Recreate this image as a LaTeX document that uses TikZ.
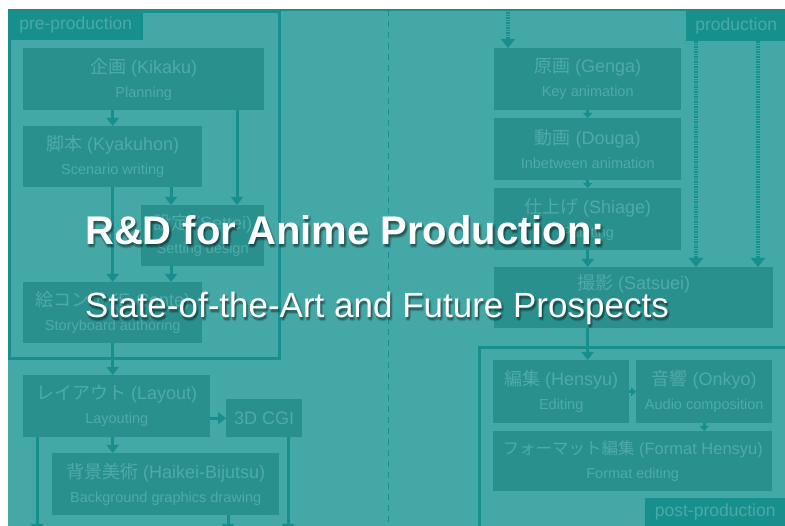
\documentclass[tikz,border=0pt]{standalone}
\usepackage{fontspec}
\setmainfont{Liberation Sans}
\newfontfamily\jp{Noto Sans CJK JP}
\usetikzlibrary{arrows.meta}
\definecolor{bgc}{HTML}{44A8A6}
\definecolor{boxc}{HTML}{2A908E}
\definecolor{boxtxt}{HTML}{4EABA8}
\definecolor{linec}{HTML}{17908D}
\definecolor{tabtxt}{HTML}{4AA9A6}
\newcommand{\mainf}{\fontsize{18}{24}\selectfont}
\newcommand{\subf}{\fontsize{14.5}{24}\selectfont}
\tikzset{
  box/.style={fill=boxc, text=boxtxt, inner sep=0pt, align=center, anchor=north west, font=\subf},
  frame/.style={draw=linec, line width=3pt, inner sep=0pt, anchor=north west},
  tabbox/.style={fill=linec, text=tabtxt, inner sep=0pt, anchor=north west, font=\fontsize{17.5}{20}\selectfont},
  conn/.style={draw=linec, line width=3pt, -{Triangle[width=12pt,length=8pt]}},
  smallconn/.style={draw=linec, line width=3pt, -{Triangle[width=9pt,length=5pt]}},
  dotconn/.style={draw=linec, line width=4pt, dash pattern=on 1.5pt off 1pt, -{Triangle[width=14pt,length=9pt]}},
  titletxt/.style={text=white, inner sep=0pt, anchor=base west},
  shadowtxt/.style={text=black, opacity=0.12, inner sep=0pt, anchor=base west},
  titlefont/.style={font=\fontsize{40}{44}\selectfont\bfseries},
  subfont/.style={font=\fontsize{35}{40}\selectfont}
}
\begin{document}
\begin{tikzpicture}[x=1pt,y=-1pt]
\useasboundingbox (0,0) rectangle (785,526);
\fill[white] (0,0) rectangle (785,526);
\fill[bgc] (8,10) rectangle (785,526);
\draw[linec, line width=2pt] (8,10) -- (785,10);
% separator
\draw[linec, line width=1pt, dash pattern=on 6pt off 5pt] (388,10) -- (388,526);
% frames
\node[frame, minimum width=270pt, minimum height=347pt] (pre) at (8,10) {};
\node[frame, minimum width=330pt, minimum height=200pt] (post) at (478,346) {};
% tabs
\node[tabbox, minimum width=135pt, minimum height=30pt] (pretab) at (8,10) {pre-production};
\node[tabbox, minimum width=100pt, minimum height=31pt] (prodtab) at (686,10) {production};
\node[tabbox, minimum width=140pt, minimum height=28pt] (posttab) at (645,498) {post-production};
% left boxes
\node[box, minimum width=241pt, minimum height=62pt] (kikaku) at (23,48) {{\mainf{\jp 企画} (Kikaku)}\\Planning};
\node[box, minimum width=179pt, minimum height=61pt] (kyakuhon) at (23,126) {{\mainf{\jp 脚本} (Kyakuhon)}\\Scenario writing};
\node[box, minimum width=123pt, minimum height=61pt] (settei) at (141,205) {{\mainf{\jp 設定} (Settei)}\\Setting design};
\node[box, minimum width=179pt, minimum height=61pt] (econte) at (23,282) {{\mainf{\jp 絵コンテ} (E-Conte)}\\Storyboard authoring};
\node[box, minimum width=187pt, minimum height=62pt] (layout) at (23,375) {{\mainf{\jp レイアウト} (Layout)}\\Layouting};
\node[box, minimum width=76pt, minimum height=38pt, font=\mainf] (cgi) at (226,399) {3D CGI};
\node[box, minimum width=227pt, minimum height=62pt] (haikei) at (52,453) {{\mainf{\jp 背景美術} (Haikei-Bijutsu)}\\Background graphics drawing};
% right boxes
\node[box, minimum width=187pt, minimum height=62pt] (genga) at (494,48) {{\mainf{\jp 原画} (Genga)}\\Key animation};
\node[box, minimum width=187pt, minimum height=62pt] (douga) at (494,118) {{\mainf{\jp 動画} (Douga)}\\Inbetween animation};
\node[box, minimum width=187pt, minimum height=62pt] (shiage) at (494,188) {{\mainf{\jp 仕上げ} (Shiage)}\\Painting};
\node[box, minimum width=279pt, minimum height=61pt] (satsuei) at (494,267) {{\mainf{\jp 撮影} (Satsuei)}\\\strut};
\node[box, minimum width=136pt, minimum height=63pt] (hensyu) at (493,360) {{\mainf{\jp 編集} (Hensyu)}\\Editing};
\node[box, minimum width=136pt, minimum height=63pt] (onkyo) at (636,360) {{\mainf{\jp 音響} (Onkyo)}\\Audio composition};
\node[box, minimum width=279pt, minimum height=60pt] (format) at (493,431) {{\fontsize{16.5}{24}\selectfont{\jp フォーマット編集} (Format Hensyu)}\\Format editing};
% free ends
\coordinate (outA) at (37,532);
\coordinate (outB) at (228,532);
\coordinate (outC) at (288,532);
\coordinate (topG) at (508,10);
% connectors left
\draw[conn] (kikaku.south -| kyakuhon.north) -- (kyakuhon.north);
\draw[conn] (kikaku.south -| 237,0) -- (settei.north -| 237,0);
\draw[conn] (kyakuhon.south -| 171,0) -- (settei.north -| 171,0);
\draw[conn] (kyakuhon.south) -- (econte.north);
\draw[conn] (settei.south -| 171,0) -- (econte.north -| 171,0);
\draw[conn] (econte.south) -- (layout.north -| econte.south);
\draw[conn] (layout.east |- cgi.west) -- (cgi.west);
\draw[conn] (layout.south -| econte.south) -- (haikei.north -| econte.south);
\draw[conn] (layout.south -| outA) -- (outA);
\draw[conn] (haikei.south -| outB) -- (outB);
\draw[conn] (cgi.south -| outC) -- (outC);
% connectors right
\draw[dotconn] (topG) -- (genga.north -| topG);
\draw[smallconn] (genga.south) -- (douga.north);
\draw[smallconn] (douga.south) -- (shiage.north);
\draw[conn] (shiage.south) -- (satsuei.north -| shiage.south);
\draw[dotconn] (prodtab.south -| 696,0) -- (satsuei.north -| 696,0);
\draw[dotconn] (prodtab.south -| 758,0) -- (satsuei.north -| 758,0);
\draw[conn] (satsuei.south -| genga.south) -- (hensyu.north -| genga.south);
\draw[smallconn] (hensyu.east) -- (onkyo.west);
\draw[smallconn] (onkyo.south) -- (format.north -| onkyo.south);
% title soft shadows
\foreach \dx/\dy [count=\i] in {1/1.5, 2/2.5, 0.5/3, 2.5/1, 1.5/3.5} {
  \node[shadowtxt, titlefont] (titlesh\i) at (85+\dx,245+\dy) {R\&D for Anime Production:};
  \node[shadowtxt, subfont] (subsh\i) at (85+\dx,318+\dy) {State-of-the-Art and Future Prospects};
}
\node[titletxt, titlefont] (title) at (85,245) {R\&D for Anime Production:};
\node[titletxt, subfont] (subtitle) at (85,318) {State-of-the-Art and Future Prospects};
\end{tikzpicture}
\end{document}
